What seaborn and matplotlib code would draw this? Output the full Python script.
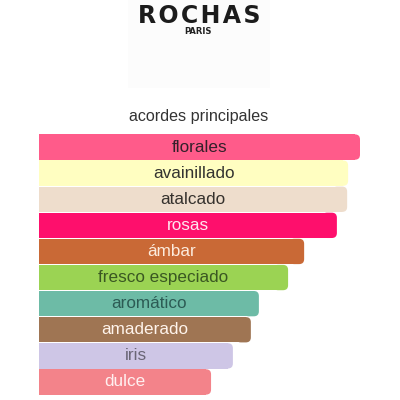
import matplotlib
matplotlib.use("Agg")
import matplotlib.pyplot as plt
from matplotlib.patches import FancyBboxPatch, Rectangle
from matplotlib.transforms import IdentityTransform
import seaborn as sns

# accords, strength relative to the top one (=100)
accords = ["florales", "avainillado", "atalcado", "rosas", "ámbar",
           "fresco especiado", "aromático", "amaderado", "iris", "dulce"]
strength = [100, 96.3, 96.0, 92.8, 82.6, 77.6, 68.5, 66.0, 60.4, 53.6]
bar_colors = ["#FF5B8A", "#FFFEC1", "#EEDDCC", "#FE0F6C", "#C96936",
              "#9BD353", "#6DBBA6", "#9F7553", "#CEC6E6", "#F3838A"]
text_colors = ["#33202A", "#333330", "#35312D", "#FFE6EF", "#FCEBDD",
               "#3A5722", "#2C5B54", "#FFF4EC", "#6A6676", "#FFF0F0"]

sns.set_style("white")
plt.rcParams["font.family"] = ["Liberation Sans", "DejaVu Sans"]

fig = plt.figure(figsize=(4, 4), dpi=100)
fig.patch.set_facecolor("white")

# faint logo box + logo text
fig.patches.append(Rectangle((128 / 400, 1 - 88 / 400), 142 / 400, 88 / 400,
                             transform=fig.transFigure, facecolor="#fcfcfc",
                             edgecolor="none", zorder=0))
fig.text(0.497, 1 - 23 / 400, "R\u200aO\u200aC\u200aH\u200aA\u200aS",
         ha="center", va="baseline", fontsize=17, fontweight="bold",
         family="DejaVu Sans", color="#1c1c1c")
fig.text(0.494, 1 - 34 / 400, "PARIS", ha="center", va="baseline",
         fontsize=6, fontweight="bold", family="DejaVu Sans", color="#222222")
fig.text(0.497, 1 - 116 / 400, "acordes principales", ha="center",
         va="center", fontsize=11.6, color="#333333")

ax = fig.add_axes([39 / 400, 5 / 400, 321 / 400, 261 / 400])
sns.barplot(x=strength, y=accords, hue=accords, palette=bar_colors,
            legend=False, orient="h", width=0.97, saturation=1,
            linewidth=0, ax=ax)
ax.set_xlim(0, 100)
ax.set_ylim(9.5, -0.5)
ax.axis("off")

# round the right ends of the bars (radius in pixels)
fig.canvas.draw()
rad = 5
for p in list(ax.patches):
    (x0, y0), (x1, y1) = ax.transData.transform(
        [(p.get_x(), p.get_y()), (p.get_x() + p.get_width(), p.get_y() + p.get_height())])
    ylo, yhi = min(y0, y1), max(y0, y1)
    col = p.get_facecolor()
    # keep the square left part, add a rounded cap on the right
    p.set_width(p.get_width() * (x1 - x0 - rad) / (x1 - x0))
    cap = FancyBboxPatch((x1 - 3 * rad, ylo), 3 * rad, yhi - ylo,
                         boxstyle=f"round,pad=0,rounding_size={rad}",
                         transform=IdentityTransform(), facecolor=col,
                         edgecolor="none", linewidth=0)
    ax.add_artist(cap)

for i, (name, val) in enumerate(zip(accords, strength)):
    ax.text(val / 2, i, name, ha="center", va="center",
            fontsize=12.3, color=text_colors[i], zorder=5)

fig.savefig("out.png", dpi=100)
